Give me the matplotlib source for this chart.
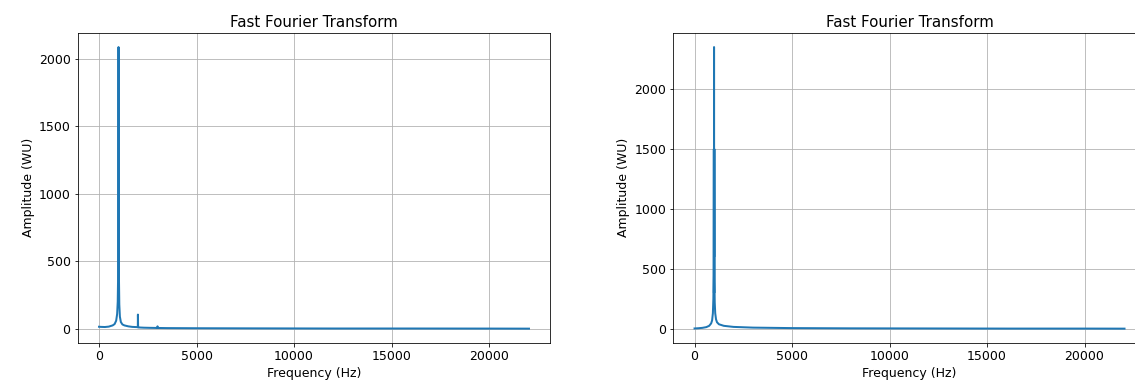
import matplotlib
matplotlib.use("Agg")
import matplotlib.pyplot as plt

# left spectrum
freq_a = [0, 100, 300, 500, 700, 800, 880, 930, 960, 980, 992, 1000, 1008, 1020,
          1040, 1070, 1120, 1200, 1300, 1500, 1700, 1990, 1995, 2000, 2005, 2010,
          2300, 2600, 2990, 3000, 3010, 3500, 5000, 8000, 12000, 16000, 20000, 22050]
amp_a = [15, 14, 13, 16, 25, 35, 60, 110, 200, 400, 900, 2085, 900, 400,
         180, 90, 50, 32, 25, 18, 14, 12, 105, 60, 12, 10,
         8, 7, 6, 18, 6, 5, 4, 3, 2, 2, 1.5, 1]

# right spectrum
freq_b = [0, 200, 400, 600, 750, 850, 900, 940, 965, 980, 990, 995, 997, 999,
          1000, 1001, 1003, 1005, 1010, 1020, 1035, 1060, 1100, 1150, 1250, 1500,
          2000, 3000, 5000, 8000, 12000, 16000, 20000, 22050]
amp_b = [3, 5, 8, 14, 25, 45, 70, 130, 250, 450, 1500, 300, 1500, 600,
         2350, 600, 1500, 300, 1500, 400, 220, 130, 80, 55, 38, 25,
         16, 10, 6, 4, 3, 2, 2, 1.5]

plt.rcParams['font.size'] = 12.5
plt.rcParams['axes.titlesize'] = 15

fig = plt.figure(figsize=(1135 / 72, 388 / 72), dpi=72)
ax1 = fig.add_axes([0.0683, 0.1167, 0.4167, 0.7983])
ax2 = fig.add_axes([0.593, 0.1167, 0.4167, 0.7983])

for ax, f, a in [(ax1, freq_a, amp_a), (ax2, freq_b, amp_b)]:
    ax.plot(f, a, color='tab:blue', linewidth=2)
    ax.set_title("Fast Fourier Transform")
    ax.set_xlabel("Frequency (Hz)")
    ax.set_ylabel("Amplitude (WU)")
    ax.grid(True)

fig.savefig("out.png", dpi=72)
